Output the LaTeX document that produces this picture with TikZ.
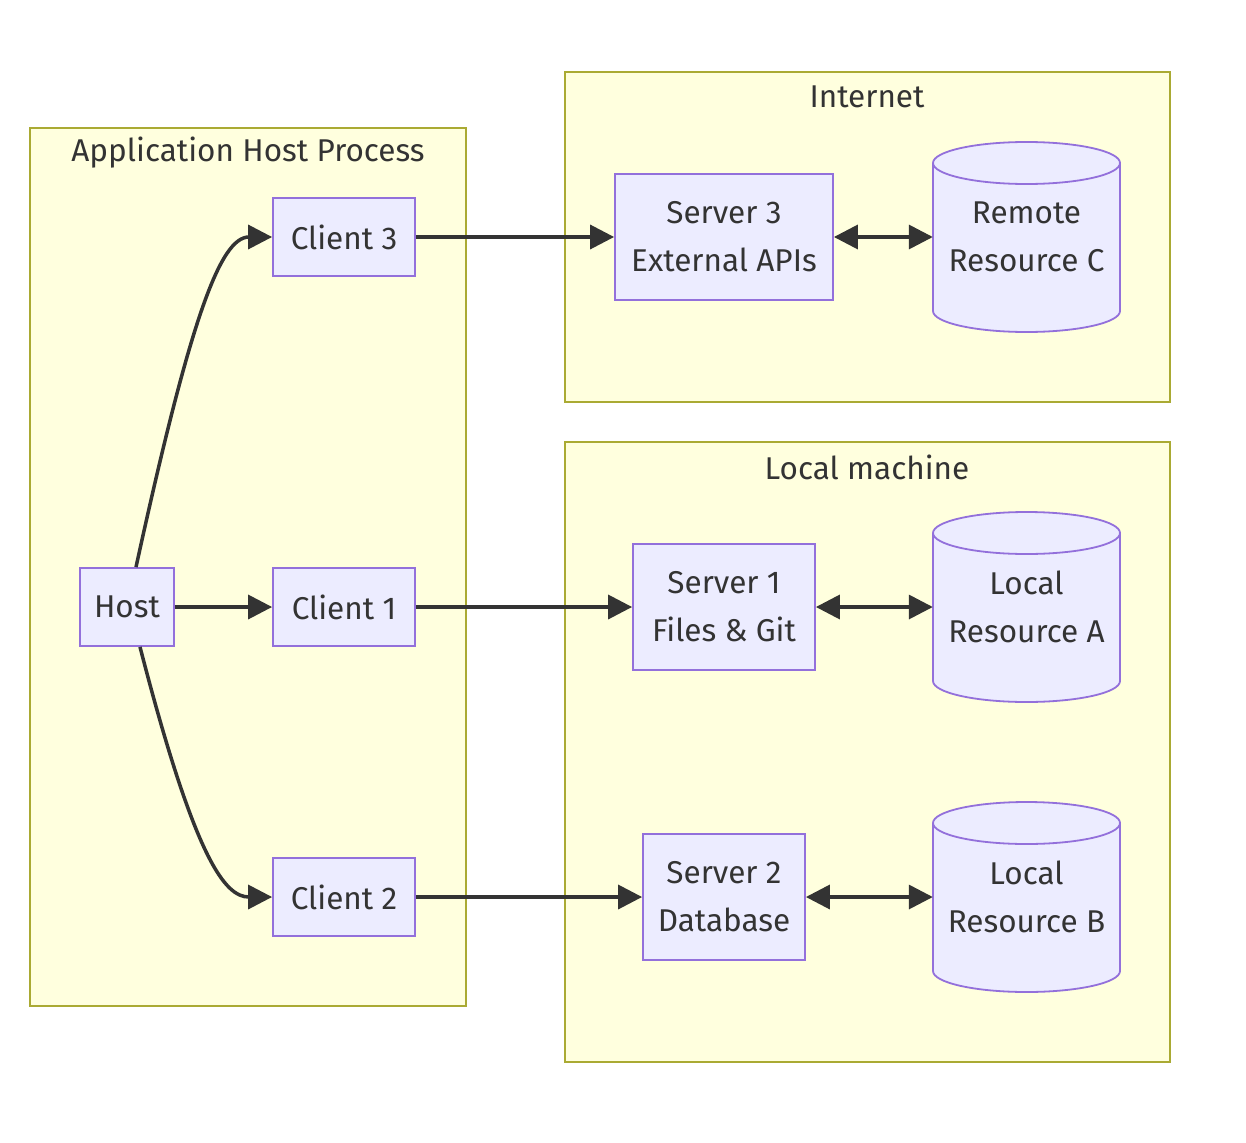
\documentclass[tikz,border=0pt]{standalone}
\usepackage{fontspec}
\setmainfont{Fira Sans}
\usetikzlibrary{arrows.meta}
\definecolor{clfill}{HTML}{FFFFDE}
\definecolor{clline}{HTML}{AAAA33}
\definecolor{ndfill}{HTML}{ECECFF}
\definecolor{ndline}{HTML}{9370DB}
\definecolor{ink}{HTML}{333333}
\begin{document}
\begin{tikzpicture}[x=1pt,y=1pt,
  cluster/.style={draw=clline,fill=clfill,line width=1.8pt},
  cltitle/.style={text=ink,inner sep=0pt,font=\fontsize{31.5}{36}\selectfont},
  box/.style={draw=ndline,fill=ndfill,line width=1.8pt,text=ink,inner sep=0pt,align=center,font=\fontsize{31.5}{48}\selectfont},
  dbtext/.style={text=ink,inner sep=0pt,align=center,font=\fontsize{31.5}{48}\selectfont},
  cyl/.style={draw=ndline,fill=ndfill,line width=1.8pt},
  edge/.style={draw=ink,line width=3.5pt,-{Triangle[length=24pt,width=24pt]}},
  biedge/.style={draw=ink,line width=3.5pt,{Triangle[length=24pt,width=24pt]}-{Triangle[length=24pt,width=24pt]}}
]
\useasboundingbox (0,0) rectangle (1246,-1142);
\fill[white] (0,0) rectangle (1246,-1142);

% clusters
\draw[cluster] (30,-128) rectangle (466,-1006);
\draw[cluster] (565,-72) rectangle (1170,-402);
\draw[cluster] (565,-442) rectangle (1170,-1062);
\node[cltitle] (tapp) at (248,-153) {Application Host Process};
\node[cltitle] (tnet) at (867,-97) {Internet};
\node[cltitle] (tloc) at (867,-467) {Local machine};

% nodes
\node[box,minimum width=94pt,minimum height=78pt] (host) at (127,-607) {Host};
\node[box,minimum width=142pt,minimum height=78pt] (c1) at (344,-607) {Client 1};
\node[box,minimum width=142pt,minimum height=78pt] (c3) at (344,-237) {Client 3};
\node[box,minimum width=142pt,minimum height=78pt] (c2) at (344,-897) {Client 2};
\node[box,minimum width=218pt,minimum height=126pt] (s3) at (724,-237) {Server 3\\External APIs};
\node[box,minimum width=182pt,minimum height=126pt] (s1) at (724,-607) {Server 1\\Files \& Git};
\node[box,minimum width=162pt,minimum height=126pt] (s2) at (724,-897) {Server 2\\Database};

% cylinders
\foreach \nm/\cy/\ta/\tb in {rc/237/Remote/Resource C, ra/607/Local/Resource A, rb/897/Local/Resource B}{
  \draw[cyl] (933,-\cy+74) arc[start angle=180,end angle=0,x radius=93.5pt,y radius=21pt]
     -- (1120,-\cy-74) arc[start angle=0,end angle=-180,x radius=93.5pt,y radius=21pt] -- cycle;
  \draw[cyl,fill=none] (933,-\cy+74) arc[start angle=180,end angle=360,x radius=93.5pt,y radius=21pt];
  \node[dbtext,minimum width=187pt,minimum height=190pt] (\nm) at (1026.5,-\cy) {\ta\\\tb};
}

% edges
\draw[edge] (host) -- (c1);
\draw[edge] ([xshift=9pt]host.north) .. controls (190,-320) and (220,-237) .. (c3.west);
\draw[edge] ([xshift=13pt]host.south) .. controls (195,-860) and (225,-897) .. (c2.west);
\draw[edge] (c3) -- (s3);
\draw[edge] (c1) -- (s1);
\draw[edge] (c2) -- (s2);
\draw[biedge] (s3) -- (rc.west);
\draw[biedge] (s1) -- (ra.west);
\draw[biedge] (s2) -- (rb.west);
\end{tikzpicture}
\end{document}
